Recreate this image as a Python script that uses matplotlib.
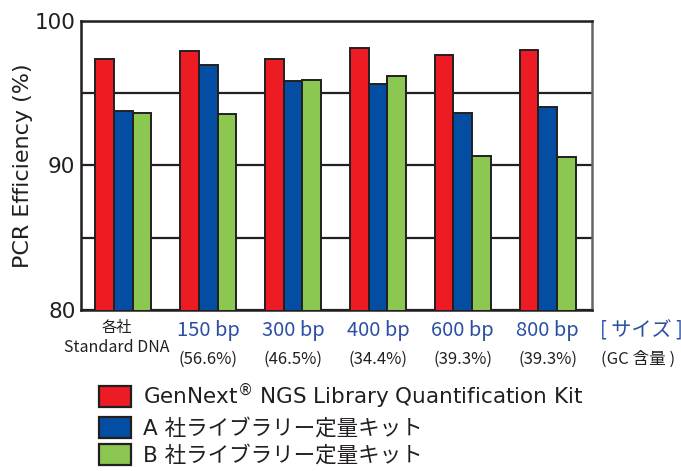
import numpy as np
import matplotlib
matplotlib.use("Agg")
import matplotlib.pyplot as plt
from matplotlib.patches import Patch

plt.rcParams['font.family'] = ['DejaVu Sans', 'Noto Sans CJK JP']

groups = ['150 bp', '300 bp', '400 bp', '600 bp', '800 bp']
gc_content = ['(56.6%)', '(46.5%)', '(34.4%)', '(39.3%)', '(39.3%)']
genn = [97.35, 97.9, 97.35, 98.1, 97.6, 98.0]
kit_a = [93.75, 96.95, 95.8, 95.6, 93.6, 94.0]
kit_b = [93.65, 93.55, 95.9, 96.2, 90.65, 90.6]
series_names = ['GenNext$^{®}$ NGS Library Quantification Kit',
                'A 社ライブラリー定量キット', 'B 社ライブラリー定量キット']
colors = ['#ED1C24', '#034EA2', '#8CC751']
dark = '#231F20'
jp = 'Noto Sans CJK JP'

fig = plt.figure(figsize=(6.81, 4.71), dpi=100)
ax = fig.add_axes([0.119, 0.342, 0.750, 0.614])

x = np.arange(len(genn))
w = 0.22
for i, vals in enumerate([genn, kit_a, kit_b]):
    ax.bar(x + (i - 1) * w, vals, w, color=colors[i], edgecolor=dark,
           linewidth=1.4, zorder=3)

ax.set_ylim(80, 100)
ax.set_xlim(-0.5, 5.52)
ax.set_yticks([80, 85, 90, 95, 100])
ax.set_yticklabels(['80', '', '90', '', '100'], fontsize=15.5, color=dark)
ax.tick_params(axis='y', length=0, pad=4)
ax.set_xticks([])
ax.grid(axis='y', color=dark, linewidth=1.6, zorder=0)
for s in ['left', 'bottom', 'top']:
    ax.spines[s].set_color(dark)
    ax.spines[s].set_linewidth(1.8)
ax.spines['right'].set_color('#666666')
ax.spines['right'].set_linewidth(1.8)
ax.set_ylabel('PCR Efficiency (%)', fontsize=16, color=dark, labelpad=1)

# x labels
tr = ax.get_xaxis_transform()
ax.text(-0.08, -0.06, '各社', transform=tr, ha='center', va='center',
        fontsize=11, color=dark, family=jp)
ax.text(-0.08, -0.13, 'Standard DNA', transform=tr, ha='center', va='center',
        fontsize=11.5, color=dark, family=jp)
for i, (g, gc) in enumerate(zip(groups, gc_content)):
    ax.text(i + 1, -0.072, g, transform=tr, ha='center', va='center',
            fontsize=14.5, color='#2A4FA3', family=jp)
    ax.text(i + 1, -0.17, gc, transform=tr, ha='center', va='center',
            fontsize=12, color=dark, family=jp)
ax.text(6.1, -0.072, '[ サイズ ]', transform=tr, ha='center', va='center',
        fontsize=14.5, color='#2A4FA3', family=jp, clip_on=False)
ax.text(6.07, -0.17, '(GC 含量 )', transform=tr, ha='center', va='center',
        fontsize=12, color=dark, family=jp, clip_on=False)

handles = [Patch(facecolor=c, edgecolor=dark, linewidth=1.6) for c in colors]
leg = fig.legend(handles, series_names, loc='upper left',
                 bbox_to_anchor=(0.145, 0.19), frameon=False, fontsize=15.5,
                 handlelength=1.5, handleheight=1.1, handletextpad=0.55,
                 labelspacing=0.26, borderpad=0, borderaxespad=0)
for t in leg.get_texts():
    t.set_color(dark)

fig.savefig('out.png', dpi=100)
